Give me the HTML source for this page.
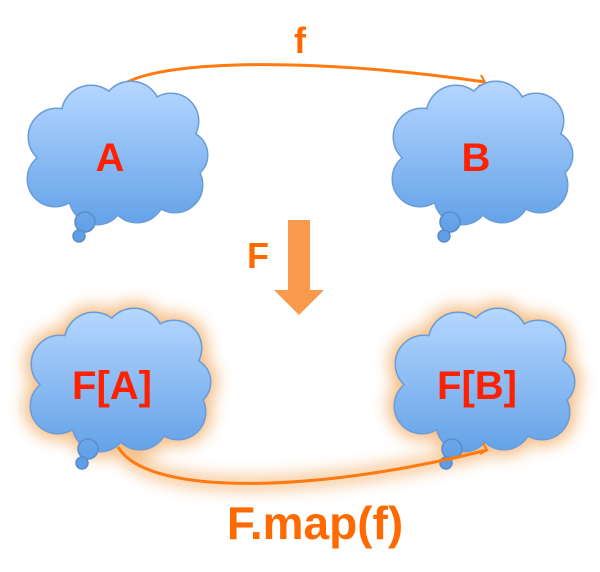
<!DOCTYPE html>
<html><head><style>
html,body{margin:0;padding:0;background:#fff;}
svg{display:block;}
text{font-family:"Liberation Sans",sans-serif;font-weight:bold;}
</style></head><body>
<svg width="600" height="572" viewBox="0 0 600 572" xmlns="http://www.w3.org/2000/svg">
<defs>
<linearGradient id="cg" x1="0" y1="0" x2="0" y2="150" gradientUnits="userSpaceOnUse">
<stop offset="0" stop-color="#b4d6ff"/><stop offset="1" stop-color="#5e9ee6"/>
</linearGradient>
<filter id="glow" x="-30%" y="-30%" width="160%" height="160%">
<feGaussianBlur stdDeviation="8"/>
</filter>
<g id="shape">
<circle cx="32" cy="52" r="28"/><circle cx="66" cy="30" r="29"/><circle cx="106" cy="26" r="29"/>
<circle cx="146" cy="36" r="27"/><circle cx="158" cy="70" r="24"/><circle cx="150" cy="100" r="27"/>
<circle cx="112" cy="110" r="27"/><circle cx="72" cy="112" r="27"/><circle cx="30" cy="94" r="27"/>
<ellipse cx="92" cy="70" rx="70" ry="45"/>
</g>
<g id="tail">
<circle cx="60" cy="137" r="10"/><circle cx="54" cy="151" r="6"/>
</g>
<g id="cloud">
<use href="#shape" fill="#6a9cd8" stroke="#6a9cd8" stroke-width="3"/>
<use href="#shape" fill="url(#cg)"/>
<use href="#tail" fill="url(#cg)" stroke="#5a8cc8" stroke-width="1.5"/>
</g>
</defs>

<path d="M115 93 C130 60, 300 55, 485 82" fill="none" stroke="#ff7a10" stroke-width="3"/>
<path d="M481 75 L486 84 L478 86" fill="none" stroke="#ff7a10" stroke-width="2"/>
<text x="300" y="53" font-size="36" fill="#ff6a00" text-anchor="middle">f</text>

<use href="#cloud" transform="translate(25,85)"/>
<use href="#cloud" transform="translate(390,85)"/>
<text x="110" y="171" font-size="40" fill="#ff2000" text-anchor="middle">A</text>
<text x="476" y="171" font-size="40" fill="#ff2000" text-anchor="middle">B</text>

<path d="M288 220 H310 V290 H324 L299 315 L274 290 H288 Z" fill="#f99a4e"/>
<text x="258" y="268" font-size="36" fill="#ff6a00" text-anchor="middle">F</text>

<g filter="url(#glow)" opacity="0.7">
<use href="#shape" fill="#f0a050" stroke="#f0a050" stroke-width="14" transform="translate(28,312)"/>
<use href="#shape" fill="#f0a050" stroke="#f0a050" stroke-width="14" transform="translate(392,312)"/>
<path d="M118 447 C150 500, 330 490, 487 450" fill="none" stroke="#f0a050" stroke-width="12"/>
</g>
<use href="#cloud" transform="translate(28,312)"/>
<use href="#cloud" transform="translate(392,312)"/>
<text x="112" y="399" font-size="40" fill="#ff2000" text-anchor="middle">F[A]</text>
<text x="477" y="399" font-size="40" fill="#ff2000" text-anchor="middle">F[B]</text>

<path d="M118 447 C150 500, 330 490, 487 450" fill="none" stroke="#ff7a10" stroke-width="3"/>
<path d="M480 454 L487 450 L483 443" fill="none" stroke="#ff7a10" stroke-width="2"/>
<text x="315" y="539" font-size="46" fill="#ff6a00" text-anchor="middle">F.map(f)</text>
</svg>
</body></html>
